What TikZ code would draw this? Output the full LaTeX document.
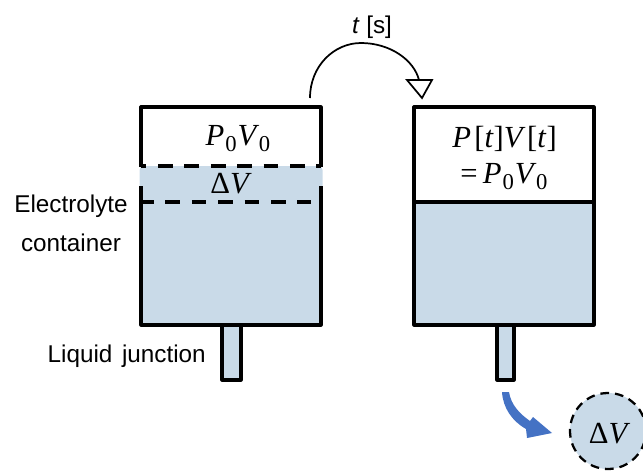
\documentclass[tikz,border=0pt]{standalone}
\usepackage{fontspec}
\setmainfont{Liberation Sans}
\newfontfamily\mathish{Liberation Serif}
\usetikzlibrary{arrows.meta,calc}
\definecolor{water}{HTML}{C9DAE8}
\definecolor{flow}{HTML}{4472C4}
\newcommand{\vP}{\textit{P}\kern0.03em}
\newcommand{\vV}{\textit{V}}
\newcommand{\vt}{\textit{t}}
\newcommand{\zero}{\raisebox{-0.2em}{\fontsize{17}{17}\selectfont 0}}
\newcommand{\PV}{\vP\zero\kern0.03em\vV\kern-0.01em\zero}
\newcommand{\dV}{Δ\vV}
\tikzset{
  vessel/.style={draw=black,line width=2.4pt,line join=round},
  lab/.style={font=\fontsize{18.2}{29}\selectfont,inner sep=0pt,align=center},
  mathlab/.style={font=\mathish\fontsize{23}{26}\selectfont,inner sep=0pt,anchor=base},
  level/.style={line width=2.6pt,dash pattern=on 11pt off 8.8pt},
}
\begin{document}
\begin{tikzpicture}[x=0.75pt,y=-0.75pt]
\useasboundingbox (0,0) rectangle (643,471);
\clip (0,0) rectangle (643,471);
% left container
\fill[water,rounded corners=3pt] (139.5,166) rectangle (322.5,200);
\fill[water] (141,185) rectangle (321,325);
\fill[water] (222,325) rectangle (241,380);
\draw[vessel] (141,167) -- (141,107) -- (321,107) -- (321,167);
\draw[vessel] (141,186) -- (141,325) -- (321,325) -- (321,186);
\draw[vessel] (222,325) -- (222,380) -- (241,380) -- (241,325);
\draw[level,dash phase=7pt] (141,166) -- (321,166);
\draw[level,dash phase=3pt] (143,202) -- (311,202);
\node[mathlab] (pv) at (238,145) {\PV};
\node[mathlab] (dv) at (231,193) {\dV};
\node[lab] (ec) at (71,223) {Electrolyte\\container};
\node[lab,anchor=east] (lj) at (206,356) {Liquid\kern0.12em\ junction};
% right container
\fill[water] (414,202) rectangle (594,325);
\fill[water] (497,325) rectangle (514,380);
\draw[vessel] (414,107) rectangle (594,325);
\draw[line width=2.4pt] (414,202) -- (594,202);
\draw[vessel] (497,325) -- (497,380) -- (514,380) -- (514,325);
\node[mathlab] (pvt) at (504.5,147) {\vP\kern0.08em[\vt]\vV\kern0.05em[\vt]};
\node[mathlab] (pvr) at (504,183) {=\,\PV};
% time arrow
\coordinate (tstart) at (310,98);
\coordinate (ttip) at (419,80);
\draw[line width=1.3pt] (tstart) .. controls (310,66) and (334,43) .. (361,43) .. controls (390,43) and (414,60) .. (ttip);
\draw[line width=1.3pt,fill=white,line join=miter] (407,80) -- (432,80) -- (422,98) -- cycle;
\node[lab] (t) at (372,27) {\textit{t} [s]};
% released droplet
\node[circle,fill=water,draw=black,line width=1.7pt,dash pattern=on 6.5pt off 4.5pt,minimum size=57pt,inner sep=0pt] (drop) at (608,431) {};
\node[mathlab] (dv2) at (609.5,443) {\dV};
% blue arrow
\fill[flow] (502,392) -- (509,392) .. controls (511,405) and (520,414) .. (530,421) -- (533,417) -- (552,433) -- (527,438) -- (526,429) .. controls (512,421) and (503,408) .. (502,392) -- cycle;
\end{tikzpicture}
\end{document}
